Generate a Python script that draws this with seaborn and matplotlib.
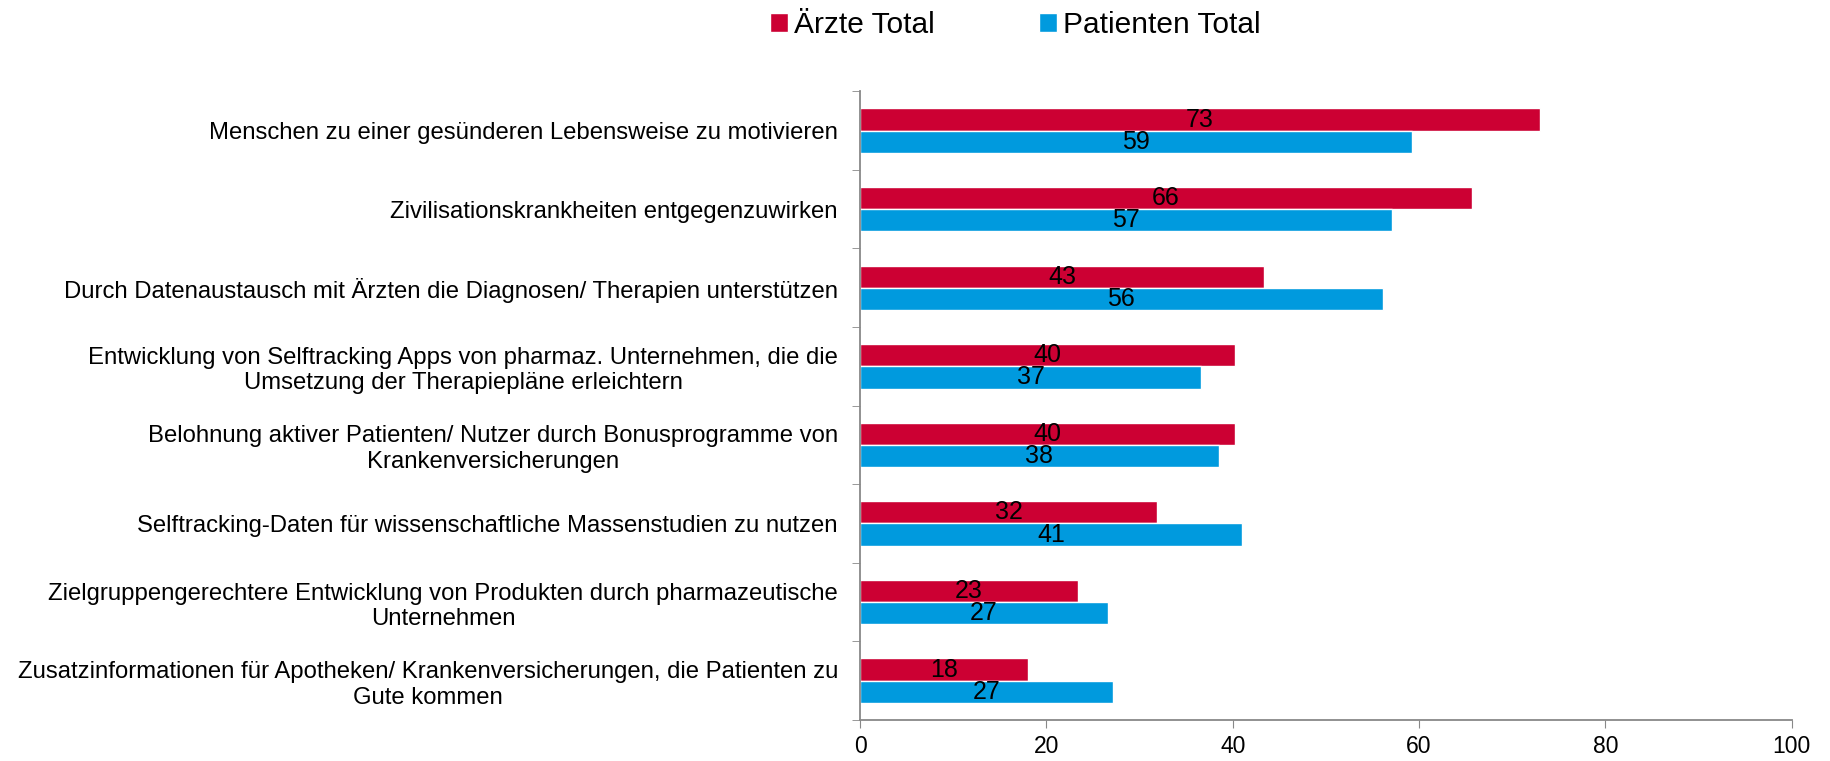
import numpy as np
import pandas as pd
import matplotlib
matplotlib.use('Agg')
from matplotlib import pyplot as plt
import seaborn as sns

categories = [
    'Menschen zu einer gesünderen Lebensweise zu motivieren',
    'Zivilisationskrankheiten entgegenzuwirken',
    'Durch Datenaustausch mit Ärzten die Diagnosen/ Therapien unterstützen',
    'Entwicklung von Selftracking Apps von pharmaz. Unternehmen, die die\nUmsetzung der Therapiepläne erleichtern',
    'Belohnung aktiver Patienten/ Nutzer durch Bonusprogramme von\nKrankenversicherungen',
    'Selftracking-Daten für wissenschaftliche Massenstudien zu nutzen',
    'Zielgruppengerechtere Entwicklung von Produkten durch pharmazeutische\nUnternehmen',
    'Zusatzinformationen für Apotheken/ Krankenversicherungen, die Patienten zu\nGute kommen',
]
aerzte = [73.0, 65.7, 43.4, 40.3, 40.3, 31.9, 23.4, 18.0]
patienten = [59.3, 57.1, 56.1, 36.6, 38.5, 41.0, 26.6, 27.2]
series_names = ['Ärzte Total', 'Patienten Total']
colors = ['#CC0033', '#009ADE']

df = pd.DataFrame({
    'Kategorie': categories * 2,
    'Wert': aerzte + patienten,
    'Gruppe': [series_names[0]] * len(categories) + [series_names[1]] * len(categories),
})

sns.set_style('white')
plt.rcParams['font.family'] = ['Liberation Sans', 'DejaVu Sans']
plt.rcParams['text.color'] = 'black'
plt.rcParams['xtick.color'] = 'black'
plt.rcParams['ytick.color'] = 'black'

fig = plt.figure(figsize=(18.3, 7.61), dpi=100)
ax = fig.add_axes([0.470, 0.054, 0.509, 0.826])

sns.barplot(data=df, y='Kategorie', x='Wert', hue='Gruppe', palette=colors,
            orient='h', width=0.565, ax=ax, saturation=1, legend=True)

for cont in ax.containers:
    vals = cont.datavalues
    ax.bar_label(cont, labels=['{:.0f}'.format(v) for v in vals],
                 label_type='center', fontsize=18, color='black')

ax.set_xlim(0, 100)
ax.set_ylim(len(categories) - 0.5, -0.5)
ax.set_xticks([0, 20, 40, 60, 80, 100])
ax.tick_params(axis='x', labelsize=16.5, length=6, color='#888888', labelcolor='black',
               direction='out', bottom=True, pad=5)
ax.set_yticks(range(len(categories)))
ax.set_yticklabels(categories, ha='right', fontsize=17.2, multialignment='center')
ax.tick_params(axis='y', which='major', length=0, pad=16, labelcolor='black')
ax.set_yticks(np.arange(-0.5, len(categories), 1.0), minor=True)
ax.tick_params(axis='y', which='minor', length=6, color='#888888', direction='out', left=True)
ax.set_xlabel('')
ax.set_ylabel('')

sns.despine(ax=ax, top=True, right=True)
for s in ('left', 'bottom'):
    ax.spines[s].set_color('#888888')
    ax.spines[s].set_linewidth(1.3)

ax.legend(loc='center', bbox_to_anchor=(0.555, 0.967), bbox_transform=fig.transFigure,
          ncol=2, frameon=False, fontsize=21.5, handlelength=0.6, handleheight=0.6,
          handletextpad=0.2, columnspacing=3.5)

fig.savefig('out.png', dpi=100)
